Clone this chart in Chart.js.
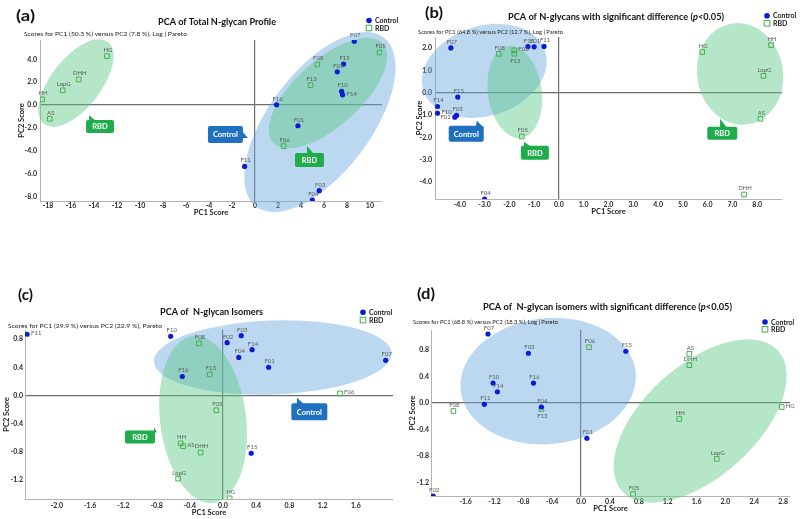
<!DOCTYPE html>
<html>
<head>
<meta charset="utf-8">
<script src="https://cdn.jsdelivr.net/npm/chart.js@4/dist/chart.umd.min.js"></script>
<style>
  body { margin: 0; background: #fff; width: 800px; height: 519px; position: relative; overflow: hidden; }
  canvas { position: absolute; }
</style>
</head>
<body>
<canvas id="pa" width="400" height="222" style="left:0;top:0"></canvas>
<canvas id="pb" width="400" height="222" style="left:400px;top:0"></canvas>
<canvas id="pc" width="400" height="249" style="left:0;top:270px"></canvas>
<canvas id="pd" width="400" height="249" style="left:400px;top:270px"></canvas>
<script>
// ---- data ----
// (a) total N-glycan profile
const aCtrlNames = ['F07', 'F15', 'F02', 'F10', 'F14', 'F16', 'F01', 'F11', 'F03', 'F04'];
const aCtrlX = [8.64, 7.71, 7.16, 7.54, 7.62, 1.88, 3.74, -0.9, 5.59, 4.99];
const aCtrlY = [5.6, 3.59, 2.92, 1.2, 0.9, 0.03, -1.81, -5.37, -7.5, -8.32];
const aRbdNames = ['HG', 'DHH', 'LopG', 'HH', 'AS', 'F08', 'F05', 'F13', 'F06'];
const aRbdX = [-12.87, -15.33, -16.72, -18.52, -17.85, 5.42, 10.84, 4.84, 2.49];
const aRbdY = [4.29, 2.25, 1.29, 0.5, -1.2, 3.56, 4.61, 1.75, -3.59];
const aXTicks = [-18, -16, -14, -12, -10, -8, -6, -4, -2, 0, 2, 4, 6, 8, 10];
const aYTicks = [-8, -6, -4, -2, 0, 2, 4];

// (b) N-glycans with significant difference
const bCtrlNames = ['F07', 'F16', 'F01', 'F11', 'F15', 'F14', 'F10', 'F03', 'F02', 'F04'];
const bCtrlX = [-4.36, -1.25, -1.0, -0.6, -4.08, -4.9, -4.9, -4.13, -4.2, -3.0];
const bCtrlY = [2.01, 2.07, 2.06, 2.08, -0.19, -0.61, -0.91, -1.01, -1.09, -4.75];
const bRbdNames = ['F08', 'F06', 'F13', 'F05', 'HG', 'HH', 'LopG', 'AS', 'DHH'];
const bRbdX = [-2.43, -1.8, -1.8, -1.5, 5.78, 8.56, 8.25, 8.13, 7.47];
const bRbdY = [1.75, 1.9, 1.75, -1.95, 1.83, 2.14, 0.76, -1.16, -4.55];
const bXTicks = [-4, -3, -2, -1, 0, 1, 2, 3, 4, 5, 6, 7, 8];
const bYTicks = [-4, -3, -2, -1, 0, 1, 2];

// (c) N-glycan isomers
const cCtrlNames = ['F11', 'F10', 'F16', 'F02', 'F03', 'F14', 'F04', 'F01', 'F07', 'F15'];
const cCtrlX = [-2.36, -0.63, -0.49, 0.05, 0.22, 0.35, 0.19, 0.55, 1.96, 0.34];
const cCtrlY = [0.87, 0.84, 0.27, 0.75, 0.85, 0.65, 0.54, 0.40, 0.50, -0.82];
const cRbdNames = ['F08', 'F13', 'F06', 'F05', 'HH', 'AS', 'DHH', 'LopG', 'HG'];
const cRbdX = [-0.29, -0.16, 1.41, -0.08, -0.51, -0.48, -0.27, -0.54, 0.08];
const cRbdY = [0.74, 0.30, 0.03, -0.21, -0.68, -0.72, -0.81, -1.18, -1.46];
const cXTicks = [-2.0, -1.6, -1.2, -0.8, -0.4, 0, 0.4, 0.8, 1.2, 1.6];
const cYTicks = [-1.2, -0.8, -0.4, 0, 0.4, 0.8];

// (d) N-glycan isomers with significant difference
const dCtrlNames = ['F07', 'F03', 'F10', 'F16', 'F14', 'F11', 'F04', 'F01', 'F02', 'F15'];
const dCtrlX = [-1.29, -0.73, -1.22, -0.66, -1.16, -1.34, -0.55, 0.08, -2.05, 0.62];
const dCtrlY = [1.04, 0.75, 0.30, 0.30, 0.17, -0.02, -0.06, -0.53, -1.40, 0.78];
const dRbdNames = ['F08', 'F06', 'F13', 'AS', 'DHH', 'HG', 'HH', 'LopG', 'F05'];
const dRbdX = [-1.77, 0.11, -0.55, 1.50, 1.50, 2.78, 1.36, 1.88, 0.72];
const dRbdY = [-0.12, 0.84, -0.09, 0.74, 0.57, -0.06, -0.24, -0.84, -1.37];
const dXTicks = [-1.6, -1.2, -0.8, -0.4, 0, 0.4, 0.8, 1.2, 1.6, 2.0, 2.4, 2.8];
const dYTicks = [-1.2, -0.8, -0.4, 0, 0.4, 0.8];

// ---- styling ----
const BLUE = '#0b1bd6';
const GREEN = '#45b04d';
const BLUE_FILL = 'rgba(105,168,222,0.45)';
const GREEN_FILL = 'rgba(90,200,132,0.45)';
const BOX_BLUE = '#1f70c1';
const BOX_GREEN = '#1fad4c';
const FONT = 'Lato';

function fitText(ctx, segs, left, cy, width, size, weight, color) {
  ctx.save();
  ctx.fillStyle = color;
  ctx.textBaseline = 'middle';
  ctx.textAlign = 'left';
  const fonts = segs.map(s => (s.italic ? 'italic ' : '') + weight + ' ' + size + 'px ' + FONT);
  let total = 0;
  segs.forEach((s, i) => { ctx.font = fonts[i]; total += ctx.measureText(s.text).width; });
  ctx.translate(left, cy);
  ctx.scale(width / total, 1);
  let x = 0;
  segs.forEach((s, i) => {
    ctx.font = fonts[i];
    ctx.fillText(s.text, x, 0);
    x += ctx.measureText(s.text).width;
  });
  ctx.restore();
}

// ellipses, callouts, point names, titles and legend
function decor(p) {
  return {
    id: 'decor',
    beforeDatasetsDraw(chart) {
      const ctx = chart.ctx, xs = chart.scales.x, ys = chart.scales.y;
      p.ellipses.forEach(e => {
        ctx.save();
        ctx.beginPath();
        ctx.ellipse(xs.getPixelForValue(e.cx), ys.getPixelForValue(e.cy), e.a, e.b, e.angle * Math.PI / 180, 0, Math.PI * 2);
        ctx.fillStyle = e.color;
        ctx.fill();
        ctx.restore();
      });
    },
    afterDatasetsDraw(chart) {
      const ctx = chart.ctx, xs = chart.scales.x, ys = chart.scales.y;
      // point names
      ctx.save();
      ctx.font = '6px ' + FONT;
      ctx.fillStyle = '#5a5a5a';
      ctx.textBaseline = 'middle';
      chart.data.datasets.forEach((ds, di) => {
        chart.getDatasetMeta(di).data.forEach((pt, i) => {
          const name = ds.names[i];
          const side = p.sides[name] || 'above';
          if (side === 'right') { ctx.textAlign = 'left'; ctx.fillText(name, pt.x + 4, pt.y - 1); }
          else if (side === 'left') { ctx.textAlign = 'right'; ctx.fillText(name, pt.x - 4, pt.y); }
          else if (side === 'below') { ctx.textAlign = 'center'; ctx.fillText(name, pt.x + 1, pt.y + 7); }
          else { ctx.textAlign = 'center'; ctx.fillText(name, pt.x + 1, pt.y - 6); }
        });
      });
      ctx.restore();
      // callouts
      p.callouts.forEach(c => {
        const cx = xs.getPixelForValue(c.x), cy = ys.getPixelForValue(c.y);
        const tx = xs.getPixelForValue(c.tipX), ty = ys.getPixelForValue(c.tipY);
        const l = cx - c.w / 2, r = cx + c.w / 2, t = cy - c.h / 2, b = cy + c.h / 2;
        ctx.save();
        ctx.fillStyle = c.color;
        ctx.beginPath();
        ctx.roundRect(l, t, c.w, c.h, 2);
        ctx.fill();
        ctx.beginPath();
        if (ty < t) {
          const bx = Math.min(Math.max(tx, l + 2), r - 8);
          ctx.moveTo(bx, t + 1); ctx.lineTo(bx + 7, t + 1); ctx.lineTo(tx, ty);
        } else {
          const by = Math.min(Math.max(ty, t + 2), b - 7);
          ctx.moveTo(r - 1, by - 5); ctx.lineTo(r - 1, by + 2); ctx.lineTo(tx, ty);
        }
        ctx.closePath();
        ctx.fill();
        ctx.fillStyle = '#fff';
        ctx.font = 'bold 7.5px ' + FONT;
        ctx.textAlign = 'center';
        ctx.textBaseline = 'middle';
        ctx.fillText(c.text, cx, cy + 0.5);
        ctx.restore();
      });
    },
    afterDraw(chart) {
      const ctx = chart.ctx, ox = p.ox, oy = p.oy;
      const T = p.texts;
      fitText(ctx, [{ text: T.letter }], T.letterBox[0] - ox, T.letterBox[1] - oy, T.letterBox[2], 16, 'bold', '#111');
      fitText(ctx, T.title, T.titleBox[0] - ox, T.titleBox[1] - oy, T.titleBox[2], 10, 'bold', '#111');
      fitText(ctx, [{ text: T.sub }], T.subBox[0] - ox, T.subBox[1] - oy, T.subBox[2], 6.5, 'normal', '#222');
      // legend from the datasets
      const L = p.legend;
      chart.data.datasets.forEach((ds, i) => {
        const mx = L[0] - ox, my = L[1] - oy + i * L[2];
        ctx.save();
        if (ds.pointStyle === 'circle') {
          ctx.fillStyle = ds.backgroundColor;
          ctx.beginPath(); ctx.arc(mx, my, 2.8, 0, Math.PI * 2); ctx.fill();
        } else {
          ctx.strokeStyle = ds.borderColor; ctx.lineWidth = 1;
          ctx.strokeRect(mx - 2.8, my - 2.8, 5.6, 5.6);
        }
        ctx.fillStyle = '#222';
        ctx.font = 'bold 7px ' + FONT;
        ctx.textBaseline = 'middle';
        ctx.fillText(ds.label, mx + 6, my + 0.5);
        ctx.restore();
      });
    }
  };
}

function axis(range, list, fmt, size, pad, title) {
  const horizontal = size.dir === 'x';
  return {
    type: 'linear',
    min: range[0],
    max: range[1],
    afterBuildTicks: s => { s.ticks = list.map(v => ({ value: v })); },
    afterFit: s => {
      if (horizontal) s.height = size.v; else s.width = size.v;
      s.paddingLeft = s.paddingRight = s.paddingTop = s.paddingBottom = 0;
    },
    ticks: {
      font: { family: FONT, size: 7, weight: 'bold' },
      color: '#2a2a2a',
      padding: pad,
      autoSkip: false,
      maxRotation: 0,
      callback: fmt
    },
    grid: {
      drawTicks: false,
      lineWidth: 1.2,
      color: c => (c.tick && Math.abs(c.tick.value) < 1e-9) ? '#6e6e6e' : 'rgba(0,0,0,0)'
    },
    border: { display: true, color: '#b4b4b4', width: 1 },
    title: { display: true, text: title, padding: 0, color: '#222', font: { family: FONT, size: 7.5, weight: 'bold' } }
  };
}

function makePanel(p) {
  const pts = (xs, ys) => xs.map((x, i) => ({ x: x, y: ys[i] }));
  new Chart(document.getElementById(p.id), {
    type: 'scatter',
    data: {
      datasets: [
        { label: 'Control', data: pts(p.ctrlX, p.ctrlY), names: p.ctrlNames, pointStyle: 'circle', pointRadius: 2.6, backgroundColor: BLUE, borderColor: BLUE, borderWidth: 0 },
        { label: 'RBD', data: pts(p.rbdX, p.rbdY), names: p.rbdNames, pointStyle: 'rect', pointRadius: 3.3, backgroundColor: 'rgba(255,255,255,0)', borderColor: GREEN, borderWidth: 1 }
      ]
    },
    options: {
      responsive: false,
      animation: false,
      events: [],
      layout: { padding: p.pad },
      plugins: { legend: { display: false }, tooltip: { enabled: false } },
      scales: {
        x: axis(p.xRange, p.xTicks, p.xFmt, { dir: 'x', v: p.xH }, p.xPad, 'PC1 Score'),
        y: axis(p.yRange, p.yTicks, p.yFmt, { dir: 'y', v: p.yW }, p.yPad, 'PC2 Score')
      }
    },
    plugins: [decor(p)]
  });
}

const one = v => v.toFixed(1);

makePanel({
  id: 'pa', ox: 0, oy: 0,
  ctrlNames: aCtrlNames, ctrlX: aCtrlX, ctrlY: aCtrlY,
  rbdNames: aRbdNames, rbdX: aRbdX, rbdY: aRbdY,
  xTicks: aXTicks, yTicks: aYTicks, xFmt: v => String(v), yFmt: one,
  xRange: [-18.7, 11.05], yRange: [-8.4, 5.7],
  pad: { left: 17, top: 40, right: 18, bottom: 5 }, yW: 23, xH: 16, xPad: 1, yPad: 3,
  sides: { F14: 'right' },
  ellipses: [
    { cx: 5.65, cy: -1.49, a: 106, b: 51, angle: -53, color: BLUE_FILL },
    { cx: -15.57, cy: 1.93, a: 52, b: 25, angle: -52, color: GREEN_FILL },
    { cx: 6.35, cy: 1.05, a: 74, b: 33, angle: -42, color: GREEN_FILL }
  ],
  callouts: [
    { text: 'Control', color: BOX_BLUE, x: -2.57, y: -2.58, w: 35, h: 17, tipX: -0.61, tipY: -2.89 },
    { text: 'RBD', color: BOX_GREEN, x: -13.48, y: -1.88, w: 28, h: 13, tipX: -14.43, tipY: -0.88 },
    { text: 'RBD', color: BOX_GREEN, x: 4.74, y: -4.82, w: 29, h: 14, tipX: 4.52, tipY: -3.59 }
  ],
  texts: {
    letter: '(a)', letterBox: [16, 16, 19],
    title: [{ text: 'PCA of Total N-glycan Profile' }], titleBox: [158, 22, 118],
    sub: 'Scores for PC1 (50.3 %) versus PC2 (7.8 %), Log | Pareto', subBox: [24, 34, 163]
  },
  legend: [369, 20.5, 7.5]
});

makePanel({
  id: 'pb', ox: 400, oy: 0,
  ctrlNames: bCtrlNames, ctrlX: bCtrlX, ctrlY: bCtrlY,
  rbdNames: bRbdNames, rbdX: bRbdX, rbdY: bRbdY,
  xTicks: bXTicks, yTicks: bYTicks, xFmt: one, yFmt: one,
  xRange: [-5, 9], yRange: [-4.75, 2.5],
  pad: { left: 15.5, top: 37, right: 18, bottom: 5.5 }, yW: 19.5, xH: 17.5, xPad: 2, yPad: 3,
  sides: { F06: 'right', F13: 'below', F10: 'right', F02: 'left' },
  ellipses: [
    { cx: -3.01, cy: 0.98, a: 64, b: 45, angle: -18, color: BLUE_FILL },
    { cx: -1.78, cy: 0.04, a: 46.5, b: 27, angle: 82, color: GREEN_FILL },
    { cx: 7.31, cy: 0.85, a: 51, b: 43, angle: 80, color: GREEN_FILL }
  ],
  callouts: [
    { text: 'Control', color: BOX_BLUE, x: -3.74, y: -1.83, w: 35, h: 16, tipX: -3.31, tipY: -1.25 },
    { text: 'RBD', color: BOX_GREEN, x: -0.97, y: -2.68, w: 28, h: 14, tipX: -1.41, tipY: -2.19 },
    { text: 'RBD', color: BOX_GREEN, x: 6.59, y: -1.81, w: 30, h: 13, tipX: 6.5, tipY: -1.16 }
  ],
  texts: {
    letter: '(b)', letterBox: [425, 13, 18],
    title: [{ text: 'PCA of N-glycans with significant difference (' }, { text: 'p', italic: true }, { text: '<0.05)' }], titleBox: [508, 17, 216],
    sub: 'Scores for PC1 (64.8 %) versus PC2 (12.7 %), Log | Pareto', subBox: [418, 32, 145]
  },
  legend: [767, 15.7, 7.6]
});

makePanel({
  id: 'pc', ox: 0, oy: 270,
  ctrlNames: cCtrlNames, ctrlX: cCtrlX, ctrlY: cCtrlY,
  rbdNames: cRbdNames, rbdX: cRbdX, rbdY: cRbdY,
  xTicks: cXTicks, yTicks: cYTicks, xFmt: one, yFmt: one,
  xRange: [-2.385, 2.048], yRange: [-1.47, 0.93],
  pad: { left: 2.5, top: 60, right: 7, bottom: 1.5 }, yW: 22.5, xH: 18.5, xPad: 3, yPad: 2,
  sides: { F11: 'right', F06: 'right', AS: 'right' },
  ellipses: [
    { cx: 0.60, cy: 0.54, a: 119, b: 37, angle: -2, color: BLUE_FILL },
    { cx: -0.24, cy: -0.34, a: 84, b: 43, angle: 83, color: GREEN_FILL }
  ],
  callouts: [
    { text: 'Control', color: BOX_BLUE, x: 1.04, y: -0.23, w: 36, h: 17, tipX: 0.89, tipY: -0.03 },
    { text: 'RBD', color: BOX_GREEN, x: -1.0, y: -0.59, w: 30, h: 13, tipX: -0.8, tipY: -0.51 }
  ],
  texts: {
    letter: '(c)', letterBox: [18, 295, 15],
    title: [{ text: 'PCA of  N-glycan Isomers' }], titleBox: [160, 312, 103],
    sub: 'Scores for PC1 (29.9 %) versus PC2 (22.9 %), Pareto', subBox: [8, 326, 154]
  },
  legend: [363, 312.3, 7.7]
});

makePanel({
  id: 'pd', ox: 400, oy: 270,
  ctrlNames: dCtrlNames, ctrlX: dCtrlX, ctrlY: dCtrlY,
  rbdNames: dRbdNames, rbdX: dRbdX, rbdY: dRbdY,
  xTicks: dXTicks, yTicks: dYTicks, xFmt: one, yFmt: one,
  xRange: [-2.08, 2.895], yRange: [-1.40, 1.1],
  pad: { left: 8.5, top: 60, right: 10, bottom: 6.2 }, yW: 22.5, xH: 16.8, xPad: 2, yPad: 2,
  sides: { F13: 'below', HG: 'right' },
  ellipses: [
    { cx: -0.457, cy: 0.33, a: 88, b: 63, angle: -6, color: BLUE_FILL },
    { cx: 1.65, cy: -0.27, a: 105, b: 56, angle: -42, color: GREEN_FILL }
  ],
  callouts: [],
  texts: {
    letter: '(d)', letterBox: [417, 294, 18],
    title: [{ text: 'PCA of  N-glycan isomers with significant difference (' }, { text: 'p', italic: true }, { text: '<0.05)' }], titleBox: [483, 307, 249],
    sub: 'Scores for PC1 (68.8 %) versus PC2 (18.3 %), Log | Pareto', subBox: [413, 322, 145]
  },
  legend: [765, 322, 7.3]
});
</script>
</body>
</html>
